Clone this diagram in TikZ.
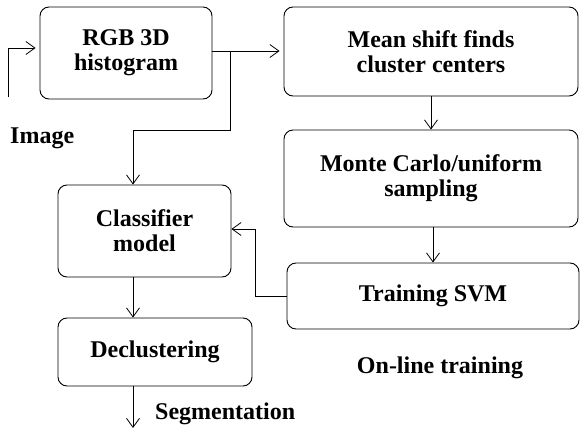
\documentclass[tikz,border=0pt]{standalone}
\usepackage{fontspec}
\setmainfont{Liberation Serif}
\usetikzlibrary{arrows.meta}
\begin{document}
\begin{tikzpicture}[x=1pt,y=-1pt,
  blk/.style={draw,rounded corners=9pt,line width=0.9pt,font=\bfseries\fontsize{24}{25}\selectfont,align=center,inner sep=0pt},
  lbl/.style={font=\bfseries\fontsize{24}{25}\selectfont,inner sep=0pt},
  flow/.style={line width=0.8pt,-{Straight Barb[length=9pt,width=13pt,line width=0.8pt]}}]
\useasboundingbox (0,0) rectangle (582,428);
% processing boxes
\node[blk,minimum width=172pt,minimum height=92pt] (rgb) at (126,53) {RGB 3D\\histogram};
\node[blk,minimum width=294pt,minimum height=89pt] (ms) at (431,51.5) {Mean shift finds\\cluster centers};
\node[blk,minimum width=294pt,minimum height=97pt] (mc) at (431,178.5) {Monte Carlo/uniform\\sampling};
\node[blk,minimum width=292pt,minimum height=66pt] (svm) at (433,296) {Training SVM};
\node[blk,minimum width=173pt,minimum height=92pt] (cls) at (144.5,231) {Classifier\\model};
\node[blk,minimum width=194pt,minimum height=68pt] (dec) at (155,352) {Declustering};
% labels
\node[lbl,anchor=base west] (img) at (10,143) {Image};
\node[lbl,anchor=base] (olt) at (440,373) {On-line training};
\node[lbl,anchor=base west] (seg) at (155,419) {Segmentation};
% free ends
\coordinate (in0) at (8,97);
\coordinate (in1) at (8,48);
\coordinate (split) at (230,51);
\coordinate (seg0) at (133,428);
% connectors
\draw[flow] (in0) -- (in1) -- ([xshift=-4pt]rgb.west |- in1);
\draw[flow] (rgb.east |- split) -- ([xshift=-4pt]ms.west |- split);
\draw[flow] (split) -- (230,130) -- (133,130) -- (133,0 |- cls.north);
\draw[flow] (ms.south) -- (mc.north);
\draw[flow] (mc.south -| svm.north) -- (svm.north);
\draw[flow] (svm.west) -- (255,296) -- (255,229) -- (cls.east |- 0,229);
\draw[flow] (cls.south -| 133,0) -- (dec.north -| 133,0);
\draw[flow] (dec.south -| 133,0) -- (seg0);
\end{tikzpicture}
\end{document}
